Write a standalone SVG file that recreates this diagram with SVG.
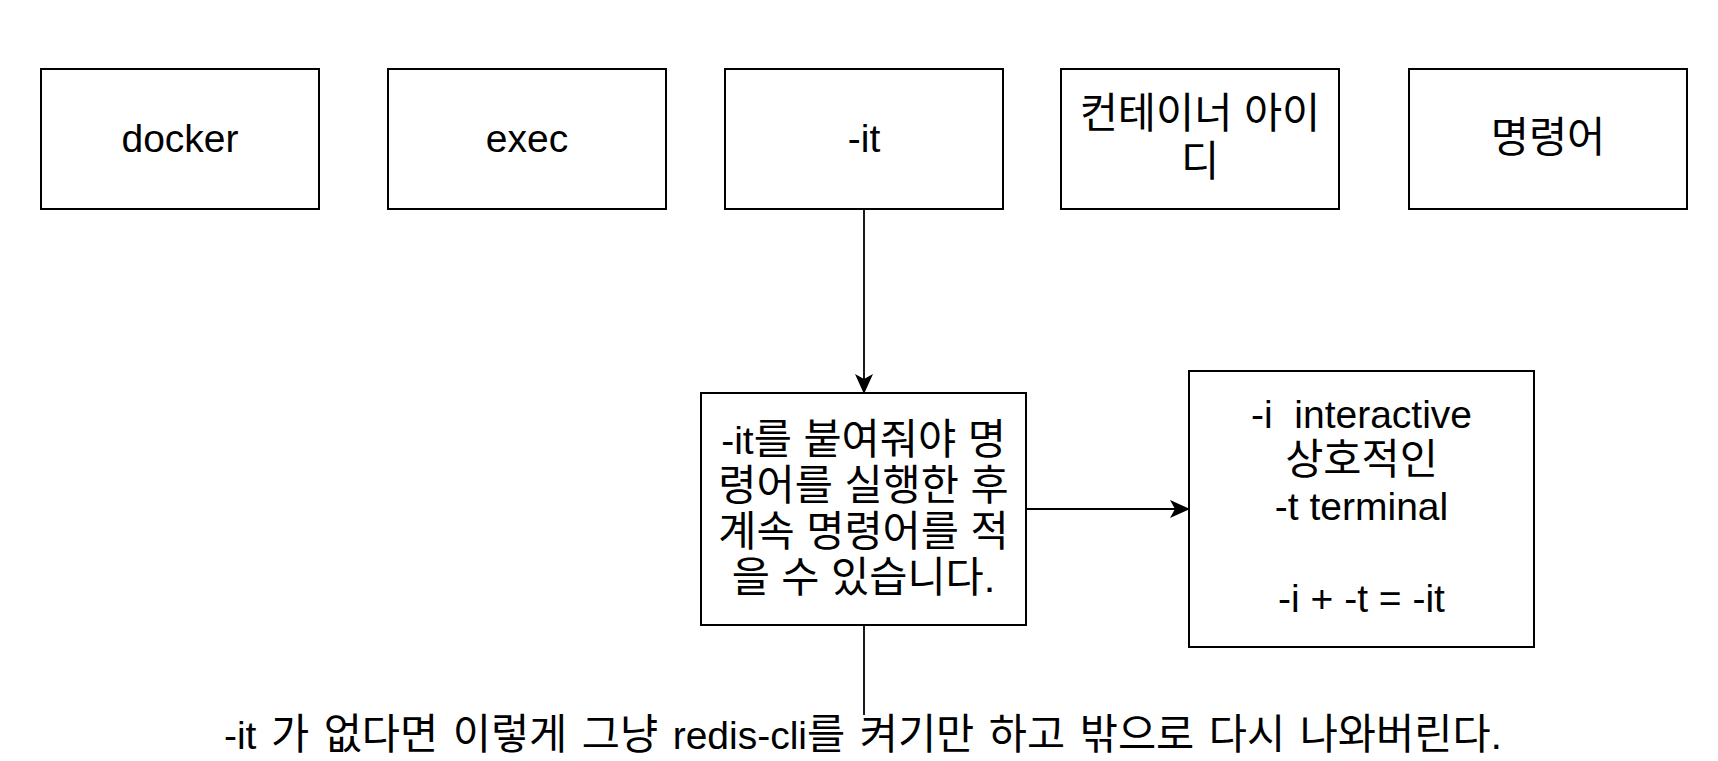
<svg xmlns="http://www.w3.org/2000/svg" width="1718" height="761" viewBox="0 0 1718 761">
<defs>
<style>
.box{fill:#fff;stroke:#000;stroke-width:2}
.t{font-family:"Liberation Sans","Noto Sans CJK KR",Arial,sans-serif;font-size:41.5px;fill:#000;text-anchor:middle}
.l{font-size:39px}
.c{stroke:#000;stroke-width:1.8;fill:none}
</style>
<marker id="arr" viewBox="0 0 20 18" refX="19" refY="9" markerWidth="20" markerHeight="18" markerUnits="userSpaceOnUse" orient="auto">
<path d="M0,0 L20,9 L0,18 L5,9 Z" fill="#000"/>
</marker>
</defs>
<rect width="1718" height="761" fill="#fff"/>
<g id="docker"><rect class="box" x="41" y="69" width="278" height="140"/><text class="t l" x="180" y="152">docker</text></g>
<g id="exec"><rect class="box" x="388" y="69" width="278" height="140"/><text class="t l" x="527" y="152">exec</text></g>
<g id="it"><rect class="box" x="725" y="69" width="278" height="140"/><text class="t l" x="864" y="152">-it</text></g>
<g id="container"><rect class="box" x="1061" y="69" width="278" height="140"/><text class="t" x="1200" y="128">컨테이너 아이</text><text class="t" x="1200" y="176">디</text></g>
<g id="command"><rect class="box" x="1409" y="69" width="278" height="140"/><text class="t" x="1548" y="152">명령어</text></g>
<g id="explain"><rect class="box" x="701" y="393" width="325" height="232"/>
<text class="t" x="863.5" y="454"><tspan class="l">-it</tspan>를 붙여줘야 명</text>
<text class="t" x="863.5" y="500">령어를 실행한 후</text>
<text class="t" x="863.5" y="546">계속 명령어를 적</text>
<text class="t" x="863.5" y="592">을 수 있습니다.</text></g>
<g id="meaning"><rect class="box" x="1189" y="371" width="345" height="276"/>
<text class="t l" x="1361.5" y="428" xml:space="preserve">-i  interactive</text>
<text class="t" x="1361.5" y="474">상호적인</text>
<text class="t l" x="1361.5" y="520">-t terminal</text>
<text class="t l" x="1361.5" y="612">-i + -t = -it</text></g>
<g id="note"><text class="t" x="863" y="749" word-spacing="3"><tspan class="l">-it</tspan> 가 없다면 이렇게 그냥 <tspan class="l">redis-cli</tspan>를 켜기만 하고 밖으로 다시 나와버린다.</text></g>
<g id="connectors">
<line class="c" x1="864" y1="209" x2="864" y2="393" marker-end="url(#arr)"/>
<line class="c" x1="1026" y1="509" x2="1189" y2="509" marker-end="url(#arr)"/>
<line class="c" x1="864" y1="625" x2="864" y2="715"/>
</g>
</svg>
